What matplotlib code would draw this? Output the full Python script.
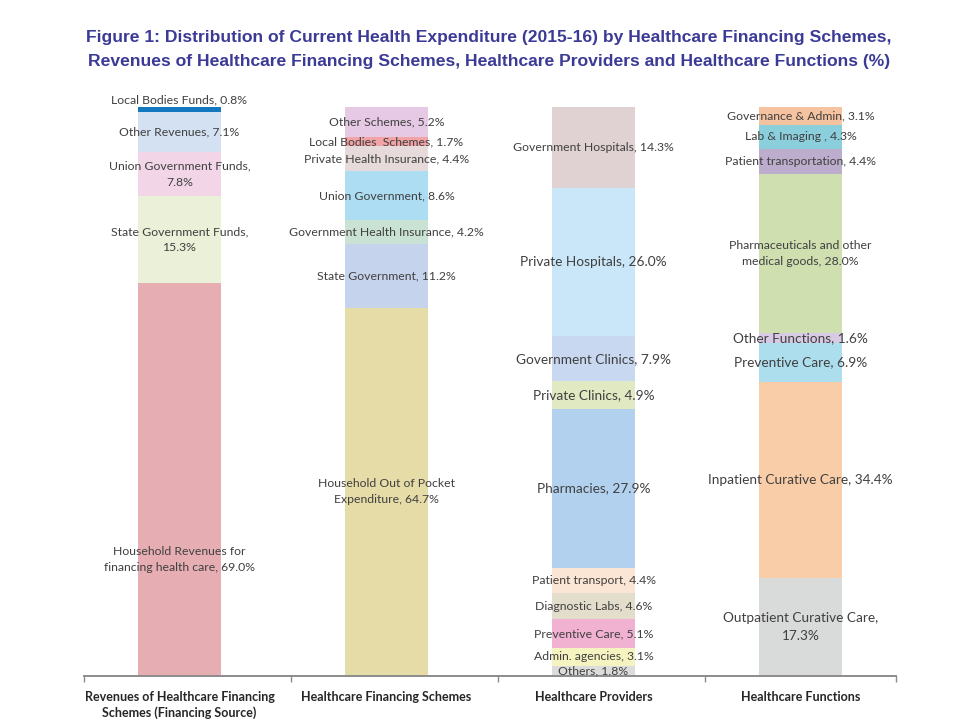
import matplotlib
matplotlib.use('Agg')
import matplotlib.pyplot as plt
from matplotlib import font_manager
import numpy as np

# categories on the x axis
categories = ['Revenues of Healthcare Financing\nSchemes (Financing Source)',
              'Healthcare Financing Schemes',
              'Healthcare Providers',
              'Healthcare Functions']

# each bar, bottom segment first
revenue_names = ['Household Revenues for\nfinancing health care', 'State Government Funds',
                 'Union Government Funds', 'Other Revenues', 'Local Bodies Funds']
revenue_values = [69.0, 15.3, 7.8, 7.1, 0.8]

scheme_names = ['Household Out of Pocket\nExpenditure', 'State Government',
                'Government Health Insurance', 'Union Government',
                'Private Health Insurance', 'Local Bodies  Schemes', 'Other Schemes']
scheme_values = [64.7, 11.2, 4.2, 8.6, 4.4, 1.7, 5.2]

provider_names = ['Others', 'Admin. agencies', 'Preventive Care', 'Diagnostic Labs',
                  'Patient transport', 'Pharmacies', 'Private Clinics',
                  'Government Clinics', 'Private Hospitals', 'Government Hospitals']
provider_values = [1.8, 3.1, 5.1, 4.6, 4.4, 27.9, 4.9, 7.9, 26.0, 14.3]

function_names = ['Outpatient Curative Care', 'Inpatient Curative Care', 'Preventive Care',
                  'Other Functions', 'Pharmaceuticals and other\nmedical goods',
                  'Patient transportation', 'Lab & Imaging ', 'Governance & Admin']
function_values = [17.3, 34.4, 6.9, 1.6, 28.0, 4.4, 4.3, 3.1]

# styling
revenue_colors = ['#E6AEB3', '#EBF0D8', '#F2D6E8', '#D3E1F3', '#1378C0']
scheme_colors = ['#E6DCA8', '#C6D3EC', '#C9E2D3', '#ADDDF3', '#E6DADA', '#F2A3A6', '#E6C9E4']
provider_colors = ['#DCDCDC', '#F5F3C0', '#F1B1D1', '#E3DECB', '#FBE6D5', '#B2D1EE',
                   '#E1E9C2', '#C8D8F0', '#C9E7F9', '#E0D2D2']
function_colors = ['#D9DADA', '#F8CDA8', '#ADDEEE', '#D8C9E4', '#D0DFB0', '#BCADCC',
                   '#8BCEDC', '#F5C3A0']

small, big = 8.8, 9.8
revenue_sizes = [small] * 5
scheme_sizes = [small] * 7
provider_sizes = [small] * 5 + [big] * 4 + [small]
function_sizes = [big] * 4 + [small] * 4

break_before_value = {'Union Government Funds', 'State Government Funds', 'Outpatient Curative Care'}
# labels moved off the segment centre (bar, segment) -> y
label_override = {(0, 0): 20.4, (0, 4): 101.3}

bars = [(revenue_names, revenue_values, revenue_colors, revenue_sizes),
        (scheme_names, scheme_values, scheme_colors, scheme_sizes),
        (provider_names, provider_values, provider_colors, provider_sizes),
        (function_names, function_values, function_colors, function_sizes)]

plt.rcParams['font.family'] = ['Lato', 'DejaVu Sans']

fig = plt.figure(figsize=(9.75, 7.27), dpi=100)
ax = fig.add_axes([84 / 975, 51 / 727, 812 / 975, 569 / 727])

x = np.arange(len(categories))
for i, (names, values, colors, sizes) in enumerate(bars):
    bottom = 0.0
    for j, (name, v) in enumerate(zip(names, values)):
        ax.bar(x[i], v, bottom=bottom, width=0.405, color=colors[j], linewidth=0)
        label = '{}, {:.1f}%'.format(name, v)
        if name in break_before_value:
            label = '{},\n{:.1f}%'.format(name, v)
        y = label_override.get((i, j), bottom + v / 2)
        ax.text(x[i], y, label, ha='center', va='center', fontsize=sizes[j],
                color='#404040', clip_on=False, linespacing=1.55)
        bottom += v

ax.set_xlim(-0.461, 3.461)
ax.set_ylim(0, 100)
for s in ['top', 'right', 'left']:
    ax.spines[s].set_visible(False)
ax.spines['bottom'].set_color('#8C8C8C')
ax.spines['bottom'].set_linewidth(1.4)
ax.set_yticks([])
ax.set_xticks([-0.461, 0.539, 1.539, 2.539, 3.461])
ax.set_xticklabels([])
ax.tick_params(axis='x', length=4, width=1, color='#8C8C8C', direction='out')

for i, c in enumerate(categories):
    ax.text(x[i], -2.6, c, ha='center', va='top', fontsize=9, fontweight='bold',
            color='#262626', transform=ax.transData, linespacing=1.35)

# title in a narrow bold face if one is installed
names_installed = {f.name for f in font_manager.fontManager.ttflist}
title_font = dict(fontsize=12.6, fontweight='bold', color='#3B3A96',
                  family=['Liberation Sans', 'DejaVu Sans'])
if 'Liberation Sans Narrow' in names_installed:
    title_font.update(family=['Liberation Sans Narrow', 'DejaVu Sans'], fontsize=14.5)

fig.text(0.5015, 0.949, 'Figure 1: Distribution of Current Health Expenditure (2015-16) by Healthcare Financing Schemes,',
         ha='center', va='center', **title_font)
fig.text(0.5015, 0.915, 'Revenues of Healthcare Financing Schemes, Healthcare Providers and Healthcare Functions (%)',
         ha='center', va='center', **title_font)

fig.savefig('out.png', dpi=100)
